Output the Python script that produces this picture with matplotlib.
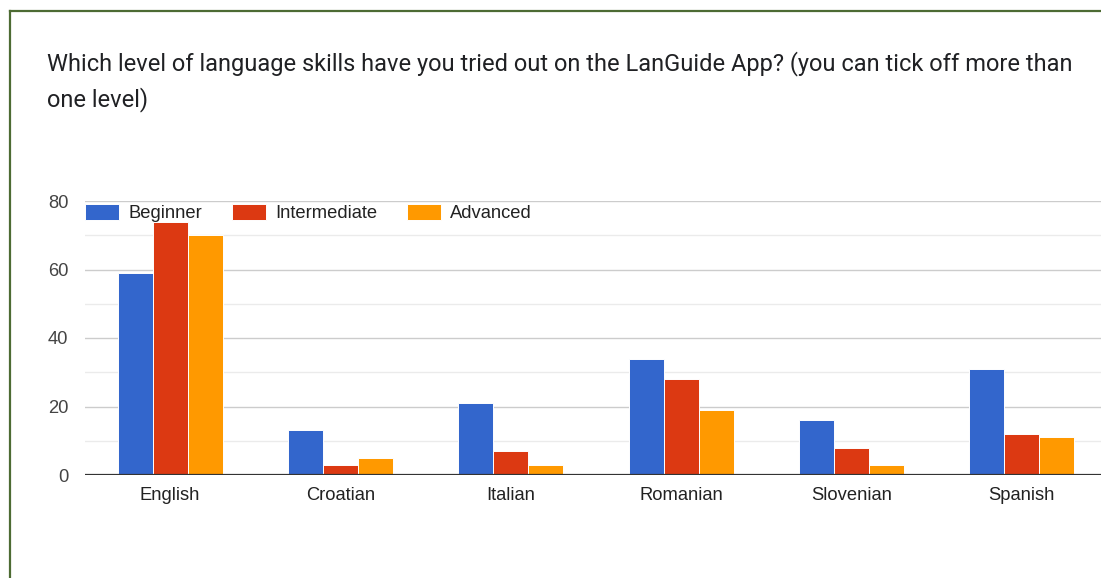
import numpy as np
import matplotlib
matplotlib.use("Agg")
import matplotlib.pyplot as plt
from matplotlib.lines import Line2D

# values
languages = ["English", "Croatian", "Italian", "Romanian", "Slovenian", "Spanish"]
levels = ["Beginner", "Intermediate", "Advanced"]
beginner = [59, 13, 21, 34, 16, 31]
intermediate = [74, 3, 7, 28, 8, 12]
advanced = [70, 5, 3, 19, 3, 11]
y_ticks = [0, 20, 40, 60, 80]
title_lines = ["Which level of language skills have you tried out on the LanGuide App? "
               "(you can tick off more than", "one level)"]

colors = ["#3366cc", "#dc3912", "#ff9900"]
W, H = 1101, 578

fig = plt.figure(figsize=(W / 100, H / 100), dpi=100)
fig.patch.set_facecolor("white")

# green card border (left + top only visible)
border = "#4d6b33"
fig.add_artist(Line2D([10 / W, 10 / W], [0, 1 - 11 / H], color=border, lw=1.6))
fig.add_artist(Line2D([10 / W, 1], [1 - 11 / H, 1 - 11 / H], color=border, lw=1.6))

for k, line in enumerate(title_lines):
    fig.text(47 / W, 1 - (64 + 36 * k) / H, line, fontsize=17, family="Roboto",
             color="#202124", va="center", ha="left")

ax = fig.add_axes([85 / W, 103 / H, 1022 / W, 274 / H])
x = np.arange(len(languages))
bw = 0.206
for i, (vals, lab) in enumerate(zip([beginner, intermediate, advanced], levels)):
    ax.bar(x + (i - 1) * bw, vals, bw, color=colors[i], label=lab,
           edgecolor="white", linewidth=0.7, zorder=3)

ax.set_xlim(-0.5, len(languages) - 0.5)
ax.set_ylim(0, 80)
ax.set_yticks(y_ticks)
ax.set_yticks([10, 30, 50, 70], minor=True)
ax.grid(axis="y", which="major", color="#cccccc", lw=1.0, zorder=0)
ax.grid(axis="y", which="minor", color="#ebebeb", lw=1.0, zorder=0)
ax.axhline(0, color="#333333", lw=1.6, zorder=4)
for s in ax.spines.values():
    s.set_visible(False)
ax.set_xticks(x)
ax.set_xticklabels(languages)
ax.tick_params(axis="both", which="both", length=0)
ax.tick_params(axis="x", pad=9, labelsize=13.2, labelcolor="#222222")
ax.tick_params(axis="y", pad=12, labelsize=13.2, labelcolor="#444444")
for t in ax.get_xticklabels() + ax.get_yticklabels():
    t.set_family("Liberation Sans")

ax.legend(loc="center left", bbox_to_anchor=(0.0, 0.956), ncol=3, frameon=False,
          prop={"family": "Liberation Sans", "size": 13.2}, handlelength=1.88,
          handleheight=0.95, handletextpad=0.5, columnspacing=1.6,
          borderpad=0, borderaxespad=0, labelcolor="#222222")

fig.savefig("out.png", dpi=100, facecolor="white")
